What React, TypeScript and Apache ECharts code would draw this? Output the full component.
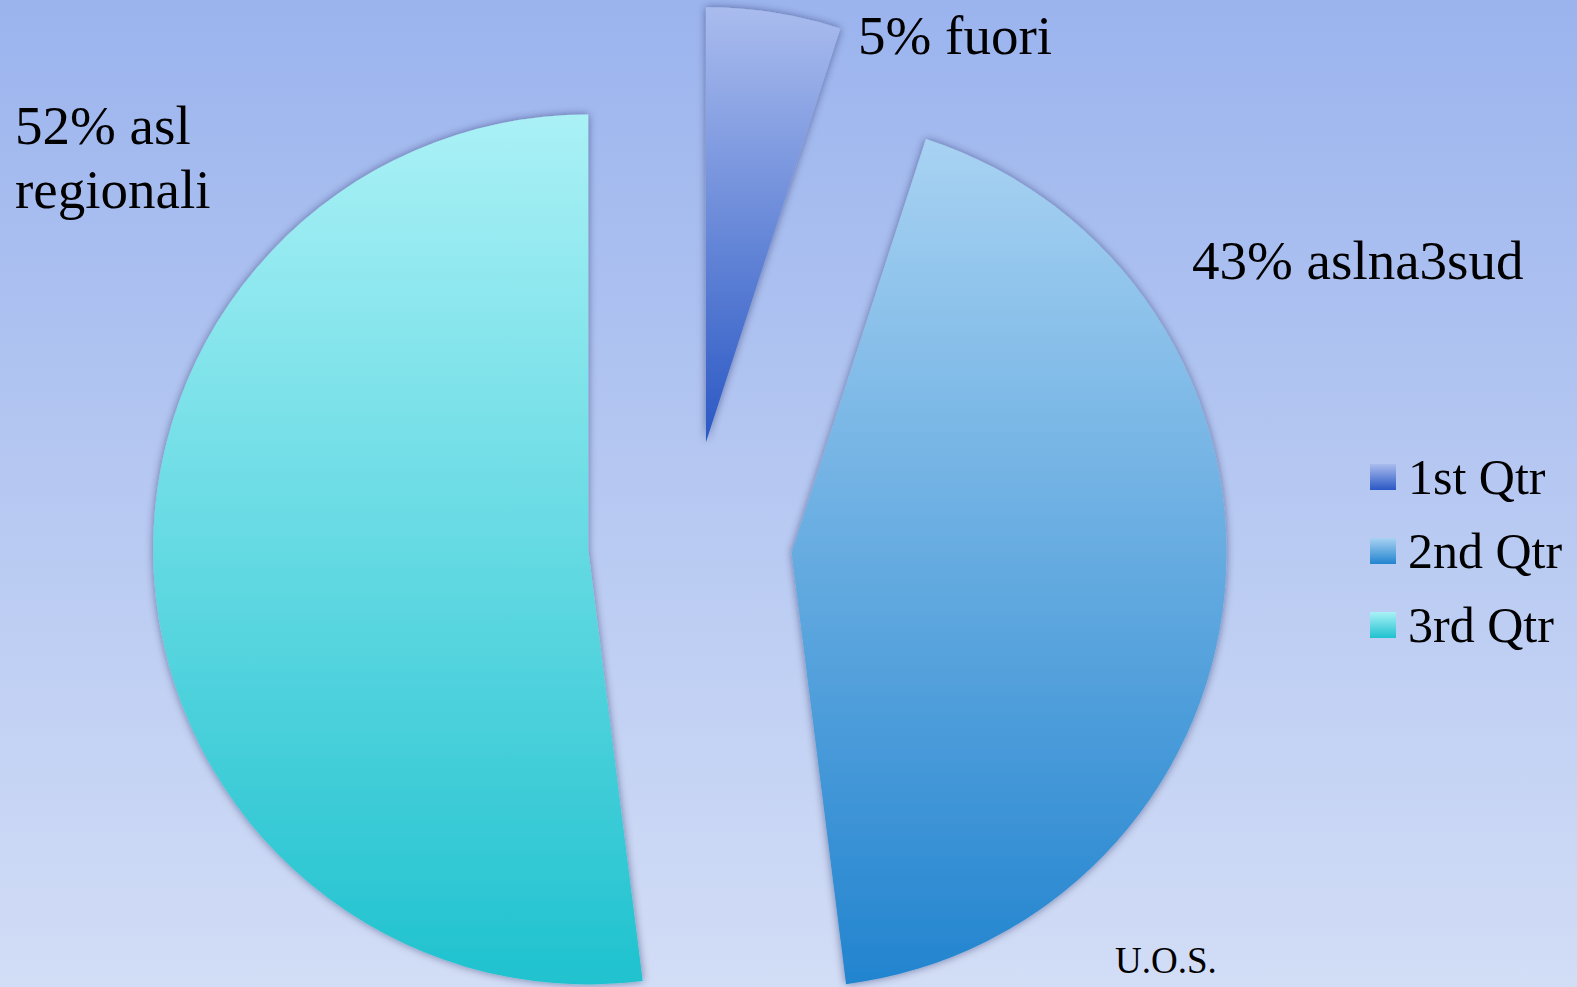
import React, { useEffect, useRef } from "react";
import * as echarts from "echarts";

const categories = ["1st Qtr", "2nd Qtr", "3rd Qtr"];
const values = [5, 43, 52];
const labelNames = ["fuori", "aslna3sud", "asl\nregionali"];
const footerText = "U.O.S.";

const sliceTop = ["#aabcee", "#a8d2f2", "#aaf1f6"];
const sliceBottom = ["#2a58c4", "#2284cf", "#1fc2cf"];
const labelPos: [number, number][] = [
  [858, 35],
  [1192, 260],
  [15, 157],
];

const FONT = "Liberation Serif";

export default function App() {
  const ref = useRef<HTMLDivElement>(null);
  useEffect(() => {
    if (!ref.current) return;
    const chart = echarts.init(ref.current, undefined, { renderer: "svg" });
    const data = categories.map((name, i) => ({
      name,
      value: values[i],
      selected: true,
      itemStyle: {
        color: new echarts.graphic.LinearGradient(0, 0, 0, 1, [
          { offset: 0, color: sliceTop[i] },
          { offset: 1, color: sliceBottom[i] },
        ]),
      },
    }));
    const labelTexts = values.map((v, i) => ({
      type: "text",
      x: labelPos[i][0],
      y: labelPos[i][1],
      silent: true,
      style: {
        text: `${v}% ${labelNames[i]}`,
        font: `55px "${FONT}", serif`,
        fontFamily: FONT,
        fontSize: 55,
        lineHeight: 64,
        fill: "#000",
        align: "left",
        verticalAlign: "middle",
      },
    }));
    chart.setOption({
      animation: false,
      textStyle: { fontFamily: FONT },
      backgroundColor: new echarts.graphic.LinearGradient(0, 0, 0, 1, [
        { offset: 0, color: "#9bb4ee" },
        { offset: 1, color: "#d2ddf6" },
      ]),
      title: {
        text: footerText,
        left: 1115,
        top: 942,
        padding: 0,
        textStyle: {
          fontFamily: FONT,
          fontSize: 37,
          lineHeight: 37,
          fontWeight: "normal",
          color: "#000",
        },
      },
      legend: {
        orient: "vertical",
        left: 1370,
        top: 452,
        padding: 0,
        itemWidth: 26,
        itemHeight: 26,
        itemGap: 24,
        icon: "rect",
        data: categories,
        textStyle: {
          fontFamily: FONT,
          fontSize: 50,
          lineHeight: 48,
          color: "#000",
          padding: [0, 0, 0, 7],
        },
      },
      graphic: labelTexts,
      series: [
        {
          type: "pie",
          center: [690, 543],
          radius: 435,
          startAngle: 90,
          clockwise: true,
          selectedMode: "multiple",
          selectedOffset: 102,
          itemStyle: {
            shadowBlur: 8,
            shadowColor: "rgba(20,30,60,0.45)",
          },
          label: { show: false },
          labelLine: { show: false },
          emphasis: { disabled: true },
          data,
        },
      ],
    });
    return () => chart.dispose();
  }, []);
  return (
    <div
      ref={ref}
      style={{ position: "absolute", left: 0, top: 0, width: 1577, height: 987 }}
    />
  );
}
